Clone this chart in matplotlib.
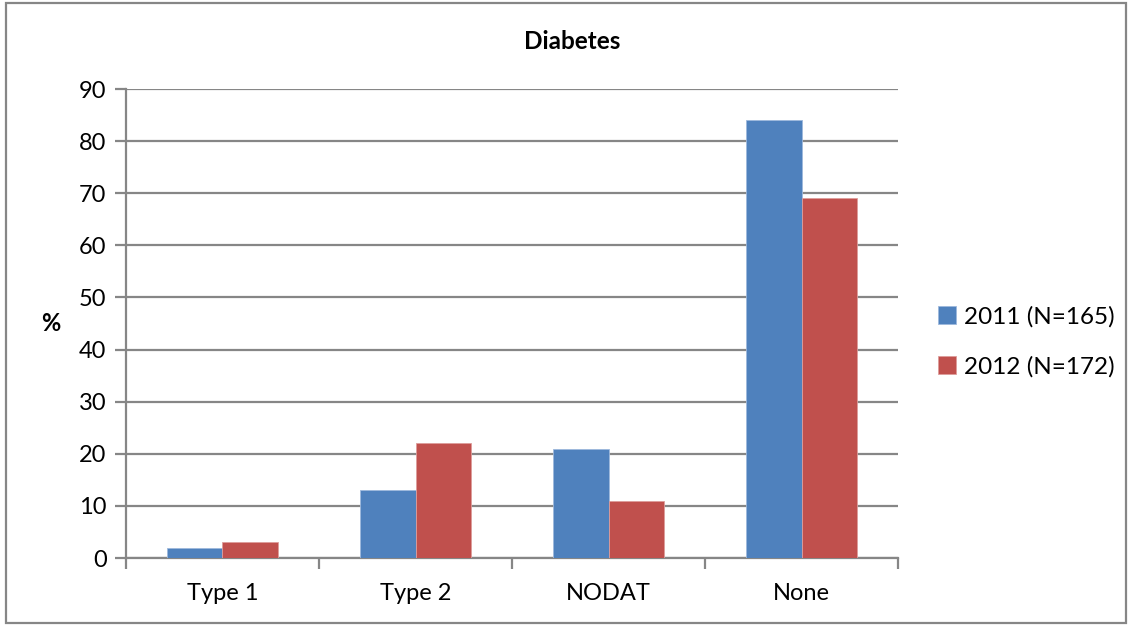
import matplotlib
matplotlib.use('Agg')
import matplotlib.pyplot as plt
import numpy as np
from matplotlib.patches import Rectangle

categories = ['Type 1', 'Type 2', 'NODAT', 'None']
values_2011 = [2, 13, 21, 84]
values_2012 = [3, 22, 11, 69]
series_labels = ['2011 (N=165)', '2012 (N=172)']

plt.rcParams['font.family'] = ['Lato', 'DejaVu Sans']

fig = plt.figure(figsize=(11.32, 6.26), dpi=100)
ax = fig.add_axes([0.1113, 0.1086, 0.682, 0.7492])

grid_color = '#868686'
x = np.arange(len(categories))
width = 0.2857
ax.bar(x - width / 2, values_2011, width, color='#4F81BD', edgecolor='#9DB8DC',
       linewidth=0.6, label=series_labels[0], zorder=3)
ax.bar(x + width / 2, values_2012, width, color='#C0504D', edgecolor='#DD9D9B',
       linewidth=0.6, label=series_labels[1], zorder=3)

ax.set_xlim(-0.5, len(categories) - 0.5)
ax.set_ylim(0, 90)
ax.set_yticks(range(0, 91, 10))
ax.set_xticks(x)
ax.set_xticklabels(categories)
ax.set_xticks(np.arange(-0.5, len(categories), 1), minor=True)

ax.yaxis.grid(True, color=grid_color, linewidth=1.6, zorder=0)
for s in ['top', 'right']:
    ax.spines[s].set_visible(False)
for s in ['left', 'bottom']:
    ax.spines[s].set_color(grid_color)
    ax.spines[s].set_linewidth(1.6)

ax.tick_params(axis='y', length=8, width=1.6, color=grid_color, labelsize=17, pad=6)
ax.tick_params(axis='x', which='major', length=0, labelsize=17, pad=18)
ax.tick_params(axis='x', which='minor', length=8, width=1.6, color=grid_color)

ax.set_ylabel('%', rotation=0, fontsize=17, fontweight='bold', labelpad=20, va='center')
fig.text(0.5055, 0.933, 'Diabetes', ha='center', va='center', fontsize=17.5, fontweight='bold')

fig.legend(loc='center left', bbox_to_anchor=(0.8095, 0.454), frameon=False, fontsize=17.5,
           handlelength=0.75, handleheight=0.75, handletextpad=0.3, labelspacing=1.15)

fig.add_artist(Rectangle((0.005, 0.004), 0.99, 0.991, transform=fig.transFigure,
                         fill=False, edgecolor=grid_color, linewidth=1.6))

fig.savefig('out.png', dpi=100)
